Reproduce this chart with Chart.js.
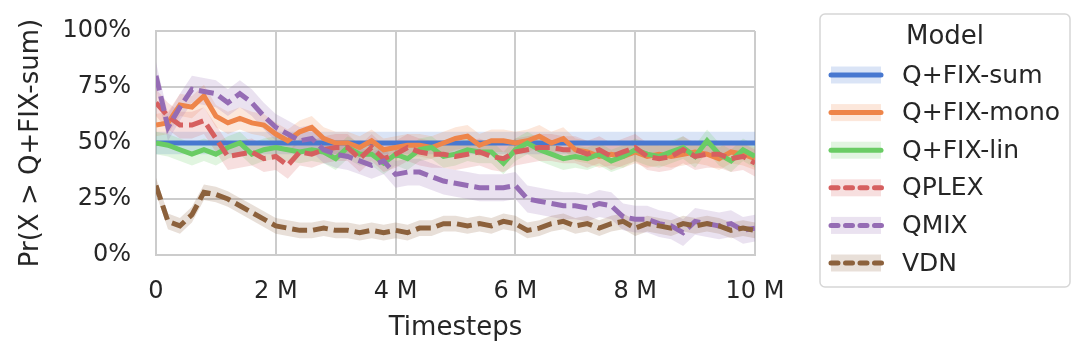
<!DOCTYPE html>
<html>
<head>
<meta charset="utf-8">
<script src="https://cdn.jsdelivr.net/npm/chart.js@4"></script>
<style>
  html, body { margin: 0; padding: 0; background: #fff; }
  #wrap { width: 1080px; height: 361px; }
</style>
</head>
<body>
<div id="wrap"><canvas id="chart" width="1080" height="361"></canvas></div>
<script>
// timesteps in millions
const steps = [0, 0.2, 0.4, 0.6, 0.8, 1.0, 1.2, 1.4, 1.6, 1.8, 2.0, 2.2, 2.4, 2.6, 2.8, 3.0, 3.2, 3.4, 3.6, 3.8,
  4.0, 4.2, 4.4, 4.6, 4.8, 5.0, 5.2, 5.4, 5.6, 5.8, 6.0, 6.2, 6.4, 6.6, 6.8, 7.0, 7.2, 7.4, 7.6, 7.8,
  8.0, 8.2, 8.4, 8.6, 8.8, 9.0, 9.2, 9.4, 9.6, 9.8, 10.0];

const fixSum = [0.50, 0.50, 0.50, 0.50, 0.50, 0.50, 0.50, 0.50, 0.50, 0.50, 0.50, 0.50, 0.50, 0.50, 0.50, 0.50, 0.50,
  0.50, 0.50, 0.50, 0.50, 0.50, 0.50, 0.50, 0.50, 0.50, 0.50, 0.50, 0.50, 0.50, 0.50, 0.50, 0.50, 0.50,
  0.50, 0.50, 0.50, 0.50, 0.50, 0.50, 0.50, 0.50, 0.50, 0.50, 0.50, 0.50, 0.50, 0.50, 0.50, 0.50, 0.50];
const fixMono = [0.58, 0.59, 0.67, 0.66, 0.71, 0.62, 0.59, 0.61, 0.59, 0.58, 0.54, 0.51, 0.55, 0.57, 0.52, 0.50, 0.50,
  0.48, 0.51, 0.47, 0.48, 0.49, 0.49, 0.48, 0.50, 0.52, 0.53, 0.49, 0.51, 0.51, 0.50, 0.51, 0.53, 0.50,
  0.52, 0.47, 0.46, 0.44, 0.45, 0.44, 0.46, 0.44, 0.45, 0.44, 0.45, 0.46, 0.45, 0.43, 0.46, 0.45, 0.43];
const fixLin = [0.50, 0.49, 0.47, 0.45, 0.47, 0.45, 0.48, 0.50, 0.45, 0.47, 0.48, 0.47, 0.46, 0.47, 0.46, 0.43, 0.48,
  0.45, 0.45, 0.41, 0.45, 0.43, 0.47, 0.48, 0.44, 0.45, 0.47, 0.46, 0.46, 0.41, 0.47, 0.50, 0.47, 0.45,
  0.43, 0.44, 0.43, 0.45, 0.42, 0.44, 0.47, 0.45, 0.44, 0.46, 0.48, 0.44, 0.51, 0.45, 0.42, 0.47, 0.44];
const qplex = [0.68, 0.62, 0.58, 0.58, 0.60, 0.52, 0.44, 0.45, 0.46, 0.43, 0.44, 0.40, 0.46, 0.45, 0.47, 0.48, 0.48,
  0.43, 0.48, 0.43, 0.45, 0.48, 0.46, 0.45, 0.45, 0.44, 0.45, 0.46, 0.44, 0.43, 0.46, 0.47, 0.48, 0.48,
  0.47, 0.47, 0.45, 0.47, 0.44, 0.46, 0.48, 0.44, 0.43, 0.44, 0.47, 0.44, 0.45, 0.45, 0.43, 0.44, 0.41];
const qmix = [0.80, 0.57, 0.66, 0.74, 0.73, 0.72, 0.68, 0.72, 0.68, 0.62, 0.57, 0.54, 0.51, 0.52, 0.47, 0.45, 0.44,
  0.42, 0.40, 0.42, 0.36, 0.37, 0.37, 0.35, 0.33, 0.32, 0.31, 0.30, 0.30, 0.30, 0.31, 0.25, 0.24, 0.23,
  0.22, 0.22, 0.21, 0.23, 0.22, 0.17, 0.16, 0.16, 0.14, 0.13, 0.10, 0.15, 0.14, 0.13, 0.14, 0.11, 0.12];
const vdn = [0.31, 0.15, 0.13, 0.18, 0.28, 0.27, 0.25, 0.22, 0.19, 0.16, 0.13, 0.12, 0.11, 0.11, 0.12, 0.11, 0.11,
  0.10, 0.11, 0.10, 0.11, 0.10, 0.12, 0.12, 0.14, 0.14, 0.13, 0.14, 0.13, 0.15, 0.14, 0.11, 0.12, 0.14,
  0.15, 0.13, 0.14, 0.12, 0.14, 0.15, 0.12, 0.14, 0.13, 0.12, 0.14, 0.13, 0.14, 0.13, 0.11, 0.12, 0.11];

// half-width of the shaded confidence band for each model
const bandHalf = [0.05, 0.05, 0.05, 0.06, 0.06, 0.035];

const modelNames = ['Q+FIX-sum', 'Q+FIX-mono', 'Q+FIX-lin', 'QPLEX', 'QMIX', 'VDN'];
const modelValues = [fixSum, fixMono, fixLin, qplex, qmix, vdn];
const colors = ['#4878d0', '#ee854a', '#6acc64', '#d65f5f', '#956cb4', '#8c613c'];
const dashed = [false, false, false, true, true, true];

const xTickLabels = ['0', '2 M', '4 M', '6 M', '8 M', '10 M'];
const yTickLabels = ['0%', '25%', '50%', '75%', '100%'];

const FONT = "'DejaVu Sans', sans-serif";
const TEXT = '#262626';
const GRID = '#cccccc';

function alpha(hex, a) {
  const n = parseInt(hex.slice(1), 16);
  return 'rgba(' + (n >> 16) + ',' + ((n >> 8) & 255) + ',' + (n & 255) + ',' + a + ')';
}

const datasets = [];
modelNames.forEach((name, k) => {
  const vals = modelValues[k];
  // band: lower edge then upper edge filled to it
  datasets.push({
    data: steps.map((x, i) => ({ x: x, y: vals[i] - bandHalf[k] })),
    borderWidth: 0, pointRadius: 0, fill: false, order: 100 - k,
    borderColor: 'rgba(0,0,0,0)'
  });
  datasets.push({
    data: steps.map((x, i) => ({ x: x, y: vals[i] + bandHalf[k] })),
    borderWidth: 0, pointRadius: 0, fill: '-1', order: 100 - k,
    borderColor: 'rgba(0,0,0,0)', backgroundColor: alpha(colors[k], 0.2)
  });
  datasets.push({
    label: name,
    data: steps.map((x, i) => ({ x: x, y: vals[i] })),
    borderColor: colors[k],
    borderWidth: 5,
    borderDash: dashed[k] ? [15, 6] : [],
    pointRadius: 0, fill: false, tension: 0, order: 6 - k
  });
});

// legend drawn in the matplotlib style: box, title, line sample over band
const boxLegend = {
  id: 'boxLegend',
  afterDraw(chart) {
    const ctx = chart.ctx;
    ctx.save();
    const x0 = 820, y0 = 14, w = 250, h = 273, r = 5;
    ctx.beginPath();
    ctx.moveTo(x0 + r, y0);
    ctx.arcTo(x0 + w, y0, x0 + w, y0 + h, r);
    ctx.arcTo(x0 + w, y0 + h, x0, y0 + h, r);
    ctx.arcTo(x0, y0 + h, x0, y0, r);
    ctx.arcTo(x0, y0, x0 + w, y0, r);
    ctx.closePath();
    ctx.fillStyle = '#ffffff';
    ctx.fill();
    ctx.strokeStyle = '#d6d6d6';
    ctx.lineWidth = 1.5;
    ctx.stroke();

    ctx.fillStyle = TEXT;
    ctx.textBaseline = 'middle';
    ctx.textAlign = 'center';
    ctx.font = '26px ' + FONT;
    ctx.fillText('Model', 945, 37);

    ctx.textAlign = 'left';
    ctx.font = '25px ' + FONT;
    modelNames.forEach((name, k) => {
      const y = 75 + k * 37.6;
      ctx.fillStyle = alpha(colors[k], 0.2);
      ctx.fillRect(831, y - 8.5, 50, 17);
      ctx.strokeStyle = colors[k];
      ctx.lineWidth = 5;
      ctx.lineCap = 'round';
      ctx.beginPath();
      ctx.setLineDash(dashed[k] ? [7, 7.5] : []);
      ctx.moveTo(831, y);
      ctx.lineTo(dashed[k] ? 883 : 881, y);
      ctx.stroke();
      ctx.setLineDash([]);
      ctx.fillStyle = TEXT;
      ctx.fillText(name, 902, y + 1);
    });
    ctx.restore();
  }
};

new Chart(document.getElementById('chart').getContext('2d'), {
  type: 'line',
  data: { datasets: datasets },
  options: {
    responsive: false,
    animation: false,
    layout: { padding: { left: 0, top: 31, right: 325, bottom: 0 } },
    plugins: {
      legend: { display: false },
      tooltip: { enabled: false }
    },
    scales: {
      x: {
        type: 'linear',
        min: 0, max: 10,
        ticks: {
          stepSize: 2,
          color: TEXT,
          font: { family: FONT, size: 24 },
          padding: 22,
          maxRotation: 0,
          callback: (v, i) => xTickLabels[i]
        },
        grid: { color: GRID, lineWidth: 2, drawTicks: false },
        border: { color: GRID, width: 2 },
        title: {
          display: true, text: 'Timesteps', color: TEXT,
          font: { family: FONT, size: 26 },
          padding: { top: 0, bottom: 17 }
        },
        afterFit: (scale) => { scale.height = 106; }
      },
      y: {
        min: 0, max: 1,
        ticks: {
          stepSize: 0.25,
          color: TEXT,
          font: { family: FONT, size: 24 },
          padding: 25,
          callback: (v, i) => yTickLabels[i]
        },
        grid: { color: GRID, lineWidth: 2, drawTicks: false },
        border: { color: GRID, width: 2 },
        title: {
          display: true, text: 'Pr(X > Q+FIX-sum)', color: TEXT,
          font: { family: FONT, size: 26 },
          padding: { top: 16, bottom: 0 }
        },
        afterFit: (scale) => {
          scale.width = 156;
          scale.paddingTop = 0;
          scale.paddingBottom = 0;
        }
      }
    }
  },
  plugins: [boxLegend]
});
</script>
</body>
</html>
